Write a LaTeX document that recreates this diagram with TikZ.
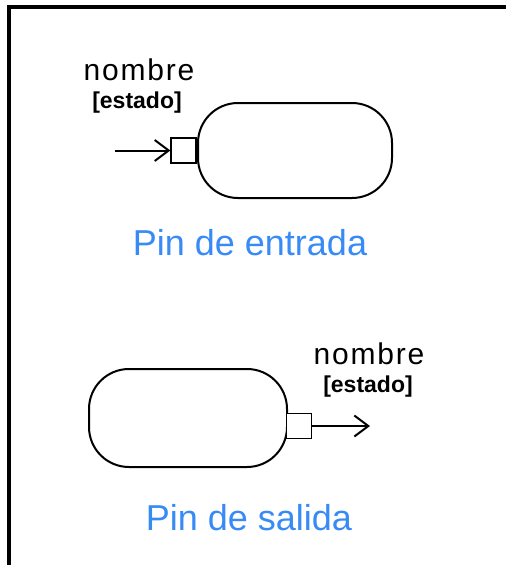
\documentclass[tikz,border=0pt]{standalone}
\usepackage{fontspec}
\setmainfont{Liberation Sans}
\usetikzlibrary{arrows.meta,positioning}
\definecolor{pinblue}{RGB}{56, 139, 245}

\begin{document}
\begin{tikzpicture}[
    x=1pt, y=-1pt,
    >={Straight Barb[length=14pt,width=21pt]},
    actbox/.style={draw, line width=2pt, rounded corners=40pt, minimum width=194pt, minimum height=95pt, inner sep=0pt},
    pinbox/.style={draw, line width=1.6pt, minimum size=25pt, inner sep=0pt, fill=white},
    pinname/.style={anchor=base, inner sep=0pt, font=\fontsize{30}{30}\selectfont\addfontfeature{LetterSpace=6}},
    pinstate/.style={anchor=base, inner sep=0pt, font=\fontsize{23}{23}\selectfont\bfseries},
    caption/.style={anchor=base, inner sep=0pt, text=pinblue, font=\fontsize{36}{36}\selectfont},
    arrow/.style={->, line width=2pt}
]
\useasboundingbox (0,0) rectangle (506,565);

% ===================== FRAME =====================
\draw[line width=3.2pt] (9,565) |- (506,7);

% ===================== INPUT PIN =====================
\node[actbox] (actin) at (295,150.5) {};
\node[pinbox, left=0pt of actin] (pinin) {};
\coordinate (srcin) at (115,150.5);
\node[pinname] (namein) at (139,80) {nombre};
\node[pinstate] (statein) at (137,108) {[estado]};
\node[caption] (capin) at (250,255) {Pin de entrada};

% ===================== OUTPUT PIN =====================
\node[actbox, minimum width=198pt, minimum height=98pt] (actout) at (188,418) {};
\node[pinbox] (pinout) at (299,426) {};
\coordinate (dstout) at (370,426);
\node[pinname] (nameout) at (369,364) {nombre};
\node[pinstate] (stateout) at (368,392) {[estado]};
\node[caption] (capout) at (249,530) {Pin de salida};

% ===================== ARROWS =====================
\draw[arrow] (srcin) -- (pinin.west);
\draw[arrow] (pinout.east) -- (dstout);

\end{tikzpicture}
\end{document}
